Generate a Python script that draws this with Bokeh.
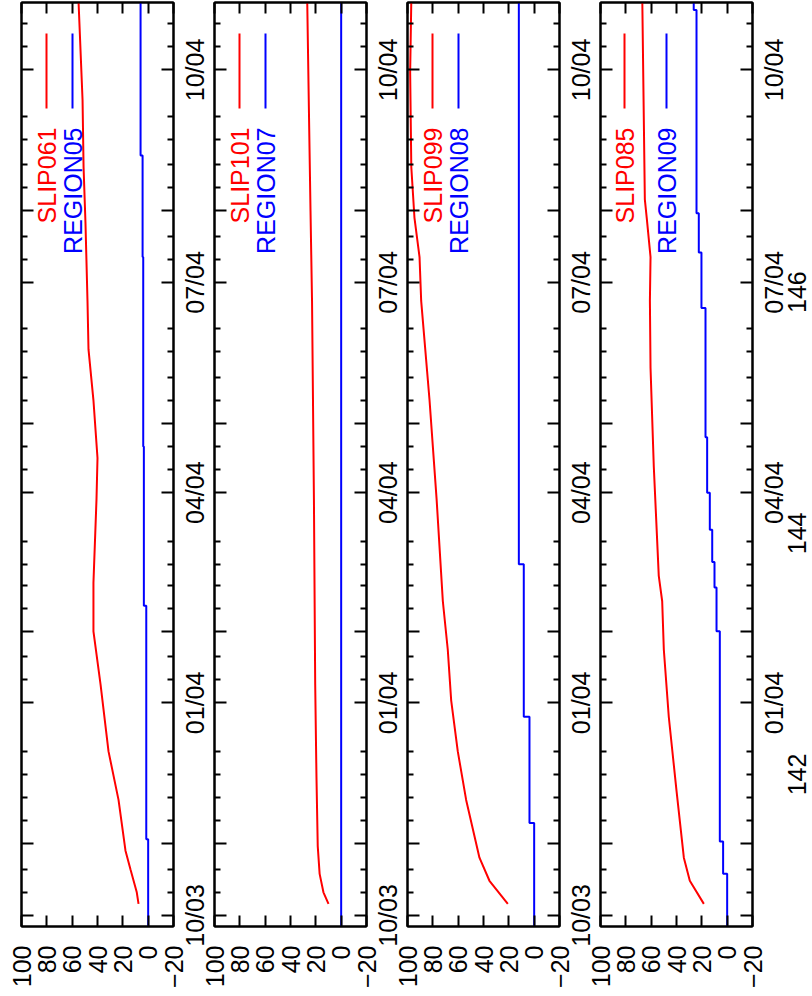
import math
from datetime import date

from bokeh.plotting import figure
from bokeh.layouts import row
from bokeh.models import Range1d, FixedTicker, LinearAxis, Label
from bokeh.embed import file_html
from bokeh.resources import INLINE

# ---------------------------------------------------------------- data
T0 = date(2003, 10, 1)

value_ticks = [-20, 0, 20, 40, 60, 80, 100]
date_tick_labels = {"2003-10-01": "10/03", "2004-01-01": "01/04", "2004-04-01": "04/04",
                    "2004-07-01": "07/04", "2004-10-01": "10/04"}
long_tick_dates = ["2003-10-01", "2003-11-01", "2004-01-01", "2004-02-01", "2004-04-01",
                   "2004-05-01", "2004-07-01", "2004-08-01", "2004-10-01"]
short_tick_dates = ["2003-10-11", "2003-10-21", "2003-11-11", "2003-11-21", "2003-12-01",
                    "2003-12-11", "2004-01-11", "2004-01-21", "2004-02-11", "2004-02-21",
                    "2004-03-01", "2004-03-11", "2004-04-11", "2004-04-21", "2004-05-11",
                    "2004-05-21", "2004-06-01", "2004-06-11", "2004-07-11", "2004-07-21",
                    "2004-08-11", "2004-08-21", "2004-09-01", "2004-09-11", "2004-10-11",
                    "2004-10-21"]
x2_ticks = [142, 144, 146]

# day = days after 2003-10-01
slip061_day = [5, 10, 20, 28, 50, 71, 100, 123, 144, 180, 198, 223, 245, 266, 300, 324, 353, 396]
slip061_val = [7.6, 9, 14, 17.9, 23.4, 31.3, 37.6, 43.2, 43.2, 40.8, 40, 43.2, 47.1, 47.9, 49.5, 51, 51.8, 55]
region05_day = [-5, 33, 134, 203, 285, 329, 396]
region05_val = [0, 1.5, 3.4, 3.9, 4.4, 6.0, 6.0]

slip101_day = [5, 10, 18, 30, 60, 100, 180, 266, 305, 350, 396]
slip101_val = [10, 14, 17, 18.5, 19.5, 20.5, 21.5, 23, 24.2, 25.5, 26.8]
region07_day = [-5, 396]
region07_val = [0, 0]

slip099_day = [5, 15, 25, 50, 71, 93, 115, 136, 180, 223, 266, 285, 302, 324, 365, 396]
slip099_val = [20.8, 35.3, 43.2, 53.7, 60.3, 65.5, 68.2, 72.1, 77, 82.6, 89.2, 90.5, 94.5, 97, 97.9, 97]
region08_day = [-5, 40, 86, 152, 396]
region08_val = [0, 3.7, 8.2, 12.1, 12.1]

slip085_day = [5, 15, 25, 54, 86, 115, 136, 147, 194, 237, 266, 285, 302, 310, 353, 396]
slip085_val = [18.4, 29.5, 34.2, 40, 46.1, 50, 51.3, 54, 57.9, 60.5, 61, 60.5, 63.5, 65, 66, 67]
region09_day = [-5, 18, 32, 123, 142, 153, 167, 183, 207, 263, 287, 304, 392, 396]
region09_val = [0, 3.2, 5.8, 8.4, 10, 11.8, 13.7, 15.8, 17.1, 20.3, 22.4, 24.2, 26.4, 26.4]

# ---------------------------------------------------------------- layout / style
FONT = "Liberation Sans"
FSPX = 25
FS = f"{FSPX}px"
RED = "#ff0000"
BLUE = "#0000ff"
FRAME_W = 152
FRAME_H = 924
Y0, Y1 = -4.8, 395.2
PX_PER_DAY = FRAME_H / (Y1 - Y0)
X2_DAY142, X2_UNIT = 61.0, 52.2
DATE_LABEL_EM = 2.502   # advance width of "mm/yy"
X2_LABEL_EM = 1.668     # advance width of "142"
LEFT_B, RIGHT_B, OVERLAP = 38, 18, 15


def day(s):
    y, m, d = map(int, s.split("-"))
    return (date(y, m, d) - T0).days


major_days = [day(s) for s in long_tick_dates]
minor_days = [day(s) for s in short_tick_dates]
overrides = {d: "" for d in major_days}
for s, lab in date_tick_labels.items():
    overrides[day(s)] = lab


def style_axis(ax, tick_len, labels, standoff=0, orient=math.pi / 2, ticks=None):
    ax.axis_line_width = 2
    ax.axis_line_color = "black"
    ax.major_tick_line_width = 2
    ax.minor_tick_line_width = 2
    ax.major_tick_in = tick_len
    ax.major_tick_out = 0
    ax.minor_tick_in = 6
    ax.minor_tick_out = 0
    ax.major_label_orientation = orient
    ax.major_label_text_font = FONT
    ax.major_label_text_color = "black"
    if labels:
        ax.major_label_text_font_size = FS
        ax.major_label_standoff = standoff
    else:
        ax.major_label_overrides = {t: "" for t in ticks}
        ax.major_label_text_font_size = "0px"
        ax.major_label_standoff = 0


def labels_only(ax):
    ax.axis_line_color = None
    ax.major_tick_line_color = None
    ax.minor_tick_line_color = None


def val_of_px(px):
    return 100 - px * 120 / FRAME_W


def day_of_px(px):
    return Y1 - px / PX_PER_DAY


panels = [
    ("SLIP061", slip061_day, slip061_val, "REGION05", region05_day, region05_val, (25, 51)),
    ("SLIP101", slip101_day, slip101_val, "REGION07", region07_day, region07_val, (25, 51)),
    ("SLIP099", slip099_day, slip099_val, "REGION08", region08_day, region08_val, (25, 51)),
    ("SLIP085", slip085_day, slip085_val, "REGION09", region09_day, region09_val, (24, 66)),
]

figs = []
for i, (sname, sday, sval, rname, rday, rval, keypx) in enumerate(panels):
    first = i == 0
    last = i == len(panels) - 1
    p = figure(frame_width=FRAME_W, frame_height=FRAME_H,
               x_range=Range1d(100, -20), y_range=Range1d(Y0, Y1),
               y_axis_location="right", output_backend="svg", toolbar_location=None,
               min_border_left=21 if first else LEFT_B,
               min_border_right=60 if last else RIGHT_B,
               min_border_top=2, min_border_bottom=62)
    if not first:
        p.margin = (0, 0, 0, -OVERLAP)
    p.grid.visible = False
    p.outline_line_color = "black"
    p.outline_line_width = 2
    p.background_fill_color = None
    p.border_fill_color = None

    # value axis (bottom, labelled) + mirror (top)
    p.xaxis[0].ticker = FixedTicker(ticks=value_ticks, minor_ticks=[])
    style_axis(p.xaxis[0], 11, True, 19)
    top = LinearAxis(ticker=FixedTicker(ticks=value_ticks, minor_ticks=[]))
    style_axis(top, 11, False, ticks=value_ticks)
    p.add_layout(top, "above")

    # time axes: ticks on both sides; the dates of the previous panel are
    # written on this panel's left axis (they sit in the gap between panels)
    p.yaxis[0].ticker = FixedTicker(ticks=major_days, minor_ticks=minor_days)
    style_axis(p.yaxis[0], 12, False, ticks=major_days)
    left = LinearAxis(ticker=FixedTicker(ticks=major_days, minor_ticks=minor_days))
    if first:
        style_axis(left, 12, False, ticks=major_days)
    else:
        left.major_label_overrides = overrides
        style_axis(left, 12, True, 5, "vertical")
    p.add_layout(left, "left")

    if last:
        # dates right of the last panel (text starts at its anchor -> centre it)
        half = DATE_LABEL_EM * FSPX / 2 / PX_PER_DAY
        dticks = [round(day(s) - half, 3) for s in date_tick_labels]
        dax = LinearAxis(ticker=FixedTicker(ticks=dticks, minor_ticks=[]),
                         major_label_overrides={t: lab for t, lab in zip(dticks, date_tick_labels.values())})
        style_axis(dax, 0, True, 22)
        labels_only(dax)
        p.add_layout(dax, "right")

        p.extra_y_ranges = {"x2": Range1d(142 + (Y0 - X2_DAY142) / X2_UNIT,
                                          142 + (Y1 - X2_DAY142) / X2_UNIT)}
        half2 = X2_LABEL_EM * FSPX / 2 / PX_PER_DAY / X2_UNIT
        xticks = [round(t - half2, 4) for t in x2_ticks]
        x2 = LinearAxis(y_range_name="x2", ticker=FixedTicker(ticks=xticks, minor_ticks=[]),
                        major_label_overrides={t: str(v) for t, v in zip(xticks, x2_ticks)})
        style_axis(x2, 0, True, -8)
        labels_only(x2)
        p.add_layout(x2, "right")

    # series
    p.line(x=sval, y=sday, line_color=RED, line_width=2)
    p.step(x=rval, y=rday, mode="before", line_color=BLUE, line_width=2)

    # key (rotated with the page)
    for name, color, off in ((sname, RED, keypx[0]), (rname, BLUE, keypx[1])):
        xv = val_of_px(off)
        p.segment(x0=[xv], y0=[day_of_px(31)], x1=[xv], y1=[day_of_px(106)],
                  line_color=color, line_width=2)
        p.add_layout(Label(x=xv, y=day_of_px(125), text=name, angle=math.pi / 2,
                           text_align="right", text_baseline="middle",
                           text_color=color, text_font=FONT, text_font_size=FS))
    figs.append(p)

layout = row(*figs)
open("out.html", "w").write(file_html(layout, INLINE))
